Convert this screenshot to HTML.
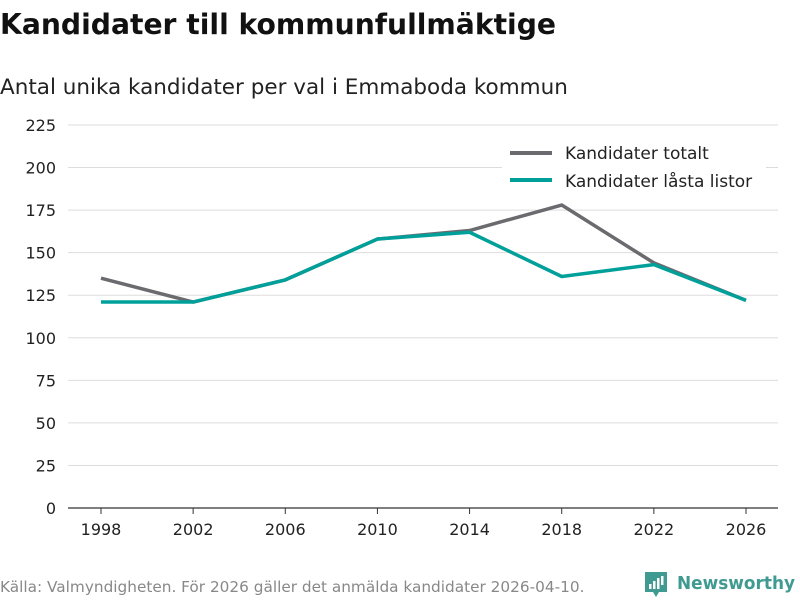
<!DOCTYPE html>
<html><head><meta charset="utf-8"><style>
body{margin:0;width:800px;height:600px;background:#fff;font-family:"DejaVu Sans","Liberation Sans",sans-serif;overflow:hidden}
svg{position:absolute;left:0;top:0}
</style></head><body>
<svg width="800" height="600">
<text x="0" y="34" font-size="28.2" font-weight="bold" fill="#111">Kandidater till kommunfullmäktige</text>
<text x="0" y="94" font-size="21.5" fill="#222">Antal unika kandidater per val i Emmaboda kommun</text>
<g id="grid"></g>
<g id="yticks"></g>
<g id="xticks"></g>
<g id="lines"></g>
<g>
<rect x="502" y="140" width="264" height="55" fill="#fff"/>
<g><line x1="510" y1="153" x2="552" y2="153" stroke="#6b6a6e" stroke-width="4"/><text x="565" y="159" font-size="17" fill="#222">Kandidater totalt</text></g>
<g><line x1="510" y1="180" x2="552" y2="180" stroke="#00a09a" stroke-width="4"/><text x="565" y="187" font-size="17" fill="#222">Kandidater låsta listor</text></g>
</g>
<text x="0" y="592" font-size="15.3" fill="#888">Källa: Valmyndigheten. För 2026 gäller det anmälda kandidater 2026-04-10.</text>
<g>
<path d="M645 572h22v20h-8l-3 5-3-5h-8z" fill="#3f9a92"/>
<rect x="649" y="584" width="2.5" height="5" fill="#fff"/><rect x="653" y="581" width="2.5" height="8" fill="#fff"/><rect x="657" y="578" width="2.5" height="11" fill="#fff"/><rect x="661" y="576" width="2.5" height="9" fill="#fff"/>
<text x="677" y="589" font-size="18" font-weight="bold" fill="#3f9a92" textLength="118" lengthAdjust="spacingAndGlyphs">Newsworthy</text>
</g>
</svg>
<script>
const years=[1998,2002,2006,2010,2014,2018,2022,2026];
const totalt=[135,121,134,158,163,178,144,122];
const lasta=[121,121,134,158,162,136,143,122];
const yTicks=[0,25,50,75,100,125,150,175,200,225];
const NS="http://www.w3.org/2000/svg";
const x=v=>101+(v-1998)*(645/28);
const y=v=>508-v*(383/225);
function mk(t,a,p){const e=document.createElementNS(NS,t);for(const k in a)e.setAttribute(k,a[k]);p.appendChild(e);return e;}
const grid=document.getElementById('grid'),yt=document.getElementById('yticks'),xt=document.getElementById('xticks'),ln=document.getElementById('lines');
yTicks.forEach(v=>{
 const g=mk('line',{x1:68,x2:778,y1:y(v),y2:y(v),stroke:v===0?'#333':'#ddd','stroke-width':v===0?1.3:1},grid);
 
 
 const t=mk('text',{x:56,y:y(v)+6,'text-anchor':'end','font-size':16,fill:'#222'},yt);t.textContent=v;
 
 
});
years.forEach(v=>{
 const l=mk('line',{x1:x(v),x2:x(v),y1:508,y2:514,stroke:'#333'},xt);
 
 
 const t=mk('text',{x:x(v),y:535,'text-anchor':'middle','font-size':16,fill:'#222'},xt);t.textContent=v;
 
 
});
[[totalt,'#6b6a6e','line-totalt'],[lasta,'#00a09a','line-lasta']].forEach(([d,c,n])=>{
 const p=mk('polyline',{points:d.map((v,i)=>x(years[i])+','+y(v)).join(' '),fill:'none',stroke:c,'stroke-width':3.5,'stroke-linejoin':'round'},ln);
 
 
});
</script>
</body></html>
